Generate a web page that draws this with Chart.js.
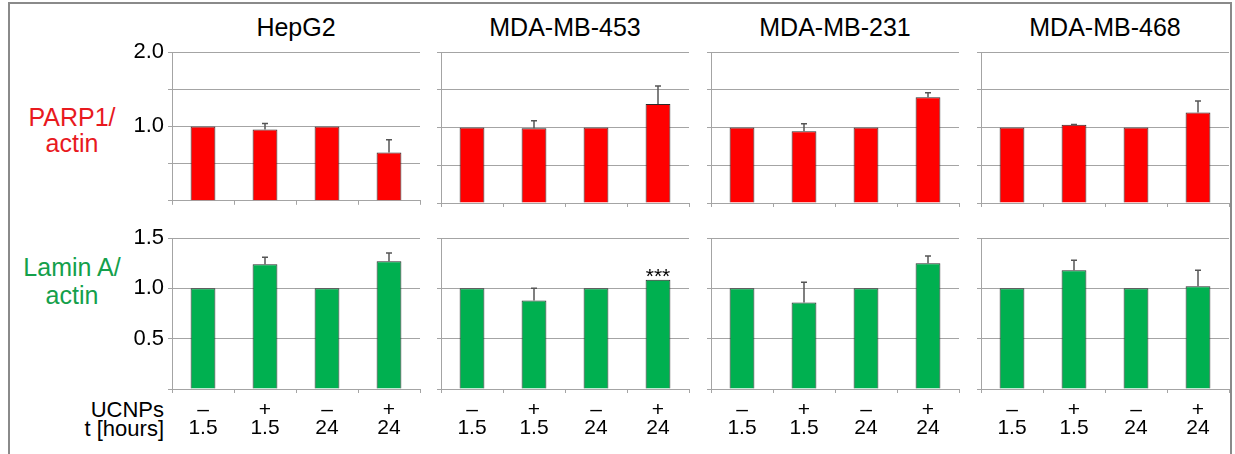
<!DOCTYPE html>
<html>
<head>
<meta charset="utf-8">
<script src="https://cdn.jsdelivr.net/npm/chart.js@4.4.1/dist/chart.umd.min.js"></script>
<style>
  body { margin: 0; background: #fff; font-family: "Liberation Sans", Arial, sans-serif; }
  #stage { position: relative; width: 1235px; height: 454px; overflow: hidden; background: #fff; }
  #frame { position: absolute; left: 8px; top: 2px; width: 1220px; height: 480px; border: 2px solid #8a8a8a; border-bottom: none; }
  canvas { position: absolute; }
  .title { position: absolute; width: 248px; text-align: center; font-size: 25px; line-height: 30px; color: #000; }
  .rowlab { position: absolute; left: 12px; width: 120px; text-align: center; font-size: 25px; }
  .xlab { position: absolute; left: 4px; width: 160px; text-align: right; font-size: 22px; line-height: 19px; color: #000; }
</style>
</head>
<body>
<div id="stage">
  <div id="frame"></div>
  <div class="rowlab" style="top:104px; line-height:26px; color:#e8191e;">PARP1/<br>actin</div>
  <div class="rowlab" style="top:253px; line-height:28px; color:#14a04b;">Lamin A/<br>actin</div>
  <div class="xlab" style="top:400px;">UCNPs<br>t [hours]</div>
</div>
<script>
// cell lines (columns) and the two treatment rows under each column
var cellLines = ['HepG2', 'MDA-MB-453', 'MDA-MB-231', 'MDA-MB-468'];
var ucnps = ['–', '+', '–', '+'];
var hours = ['1.5', '1.5', '24', '24'];

// PARP1/actin, one array per cell line (same order as cellLines)
var parp1Values = [
  [1, 0.96, 1, 0.65],
  [1, 0.99, 1, 1.31],
  [1, 0.95, 1, 1.40],
  [1, 1.035, 1, 1.20]
];
var parp1Err = [
  [0, 0.08, 0, 0.17],
  [0, 0.10, 0, 0.24],
  [0, 0.10, 0, 0.06],
  [0, 0.005, 0, 0.15]
];

// Lamin A/actin
var laminValues = [
  [1, 1.24, 1, 1.27],
  [1, 0.88, 1, 1.085],
  [1, 0.86, 1, 1.25],
  [1, 1.18, 1, 1.02]
];
var laminErr = [
  [0, 0.07, 0, 0.08],
  [0, 0.12, 0, 0],
  [0, 0.20, 0, 0.07],
  [0, 0.10, 0, 0.16]
];
var laminMarks = [
  ['', '', '', ''],
  ['', '', '', '***'],
  ['', '', '', ''],
  ['', '', '', '']
];

// y tick labels that are written out
var parp1Ticks = [1.0, 2.0];
var laminTicks = [0.5, 1.0, 1.5];

var gridColor = '#a4a4a4';
var plotLefts = [172, 441, 711, 981];

// error bars (upper half only) and significance marks
var errorBars = {
  id: 'errorBars',
  afterDatasetsDraw: function(chart, args, opts) {
    var ctx = chart.ctx;
    var y = chart.scales.y;
    var vals = chart.data.datasets[0].data;
    var meta = chart.getDatasetMeta(0);
    ctx.save();
    meta.data.forEach(function(bar, i) {
      var e = opts.errs[i];
      if (e) {
        var top = y.getPixelForValue(vals[i] + e);
        ctx.strokeStyle = '#555';
        ctx.lineWidth = 1.5;
        ctx.beginPath();
        ctx.moveTo(bar.x, bar.y);
        ctx.lineTo(bar.x, top);
        ctx.moveTo(bar.x - 3, top);
        ctx.lineTo(bar.x + 3, top);
        ctx.stroke();
      }
      if (opts.marks && opts.marks[i]) {
        ctx.fillStyle = '#000';
        ctx.font = '21px "Liberation Sans", Arial, sans-serif';
        ctx.textAlign = 'center';
        ctx.textBaseline = 'alphabetic';
        ctx.fillText(opts.marks[i], bar.x, bar.y + 3);
      }
    });
    ctx.restore();
  }
};

function addTitle(col, text) {
  var d = document.createElement('div');
  d.className = 'title';
  d.style.left = plotLefts[col] + 'px';
  d.style.top = '12px';
  d.textContent = text;
  document.getElementById('stage').appendChild(d);
}

function makePanel(col, top, height, xHeight, values, errs, marks, color, yMax, tickList, showX) {
  var c = document.createElement('canvas');
  c.width = 310;
  c.height = height;
  c.style.left = (plotLefts[col] - 60) + 'px';
  c.style.top = top + 'px';
  document.getElementById('stage').appendChild(c);

  var labels = [];
  for (var i = 0; i < ucnps.length; i++) {
    labels.push([ucnps[i], hours[i]]);
  }

  return new Chart(c, {
    type: 'bar',
    data: {
      labels: labels,
      datasets: [{
        data: values,
        backgroundColor: color,
        borderColor: '#2b2b2b',
        borderWidth: 1,
        borderSkipped: 'bottom',
        barPercentage: 0.4,
        categoryPercentage: 1
      }]
    },
    options: {
      responsive: false,
      animation: false,
      devicePixelRatio: 1,
      layout: { padding: { top: 20, bottom: 5, left: 0, right: 2 } },
      plugins: {
        legend: { display: false },
        tooltip: { enabled: false },
        errorBars: { errs: errs, marks: marks }
      },
      scales: {
        x: {
          grid: { drawOnChartArea: false, drawTicks: true, tickLength: 4, color: gridColor, offset: true },
          border: { color: gridColor },
          ticks: {
            display: showX,
            autoSkip: false,
            maxRotation: 0,
            padding: 8,
            color: '#000',
            font: { family: '"Liberation Sans", Arial, sans-serif', size: 21, lineHeight: 0.85 }
          },
          afterFit: function(s) { s.height = xHeight; }
        },
        y: {
          min: 0,
          max: yMax,
          grid: { color: gridColor, tickLength: 4 },
          border: { color: gridColor },
          ticks: {
            display: col === 0,
            stepSize: 0.5,
            padding: 4,
            color: '#000',
            font: { family: '"Liberation Sans", Arial, sans-serif', size: 22 },
            callback: function(v) { return tickList.indexOf(v) >= 0 ? v.toFixed(1) : ''; }
          },
          afterFit: function(s) { s.width = 60; }
        }
      }
    },
    plugins: [errorBars]
  });
}

for (var k = 0; k < cellLines.length; k++) {
  addTitle(k, cellLines[k]);
  // top row: chart area 52..203
  makePanel(k, 32, 20 + 151 + 10 + 5, 10, parp1Values[k], parp1Err[k], null, '#ff0000', 2, parp1Ticks, false);
  // bottom row: chart area 238..389
  makePanel(k, 218, 20 + 151 + 55 + 5, 55, laminValues[k], laminErr[k], laminMarks[k], '#00b050', 1.5, laminTicks, true);
}
</script>
</body>
</html>
